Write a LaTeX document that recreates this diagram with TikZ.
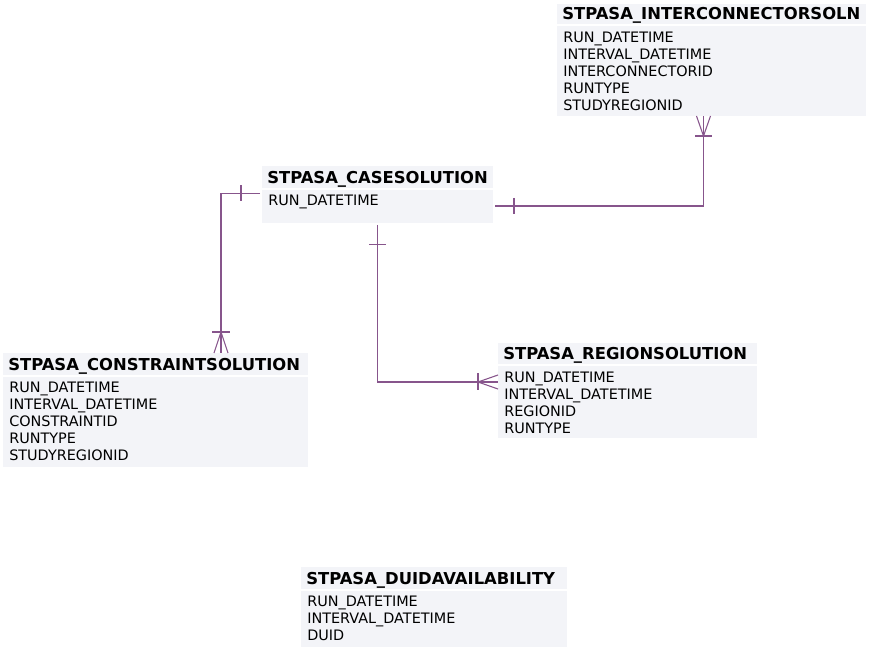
\documentclass[tikz,border=0pt]{standalone}
\usepackage{fontspec}
\setmainfont{DejaVu Sans}
\usetikzlibrary{fit,calc}
\definecolor{boxfill}{RGB}{243,244,248}
\definecolor{relcol}{RGB}{135,85,140}
\newcommand\ERbox[8]{%
  \node[hdrband, fit={(#2,#4)(#3,#5)}] (#1-h) {};
  \node[hdrband, fit={(#2,#5+2)(#3,#6)}] (#1-b) {};
  \node[titletext] (#1-t) at (#2+5,#5-4.5) {#7};
  \foreach \rr [count=\ii from 0] in {#8} {
    \node[rowtext] (#1-r\ii) at (#2+6,#5+18+17*\ii) {\rr};
  }%
}
\begin{document}
\begin{tikzpicture}[x=0.75pt,y=-0.75pt,
  hdrband/.style={inner sep=0pt, outer sep=0pt, fill=boxfill, draw=none},
  titletext/.style={anchor=base west, inner sep=0pt, font=\bfseries\fontsize{12.3}{14}\selectfont},
  rowtext/.style={anchor=base west, inner sep=0pt, font=\fontsize{10.8}{13}\selectfont},
  rel/.style={draw=relcol, line width=0.8pt}]
\useasboundingbox[fill=white] (0,0) rectangle (872,652);

\ERbox{inter}{557}{866}{4}{24.5}{116}{STPASA\_INTERCONNECTORSOLN}{RUN\_DATETIME,INTERVAL\_DATETIME,INTERCONNECTORID,RUNTYPE,STUDYREGIONID}
\ERbox{case}{262}{493}{166}{188}{223}{STPASA\_CASESOLUTION}{RUN\_DATETIME}
\ERbox{constr}{3}{308}{353}{375}{467}{STPASA\_CONSTRAINTSOLUTION}{RUN\_DATETIME,INTERVAL\_DATETIME,CONSTRAINTID,RUNTYPE,STUDYREGIONID}
\ERbox{region}{498}{757}{343}{364.5}{438}{STPASA\_REGIONSOLUTION}{RUN\_DATETIME,INTERVAL\_DATETIME,REGIONID,RUNTYPE}
\ERbox{duid}{301}{567}{567}{588.5}{647}{STPASA\_DUIDAVAILABILITY}{RUN\_DATETIME,INTERVAL\_DATETIME,DUID}

% relationship 1: case -> constraint
\coordinate (s1) at ($(case-b.north west)+(-2,3.5)$);
\coordinate (k1) at ($(constr-h.north west)+(218,0)$);
\draw[rel] (s1) -| (k1);
\draw[rel] ($(s1)+(-19,-8)$) -- ++(0,16);
\draw[rel] ($(k1)+(-9,-21)$) -- ++(18,0);
\draw[rel] ($(k1)+(-7,0)$) -- ($(k1)+(0,-21)$) -- ($(k1)+(7,0)$);

% relationship 2: case -> interconnector
\coordinate (s2) at ($(case-b.east)+(2,-0.5)$);
\coordinate (k2) at ($(inter-b.south west)+(146.5,0)$);
\draw[rel] (s2) -| (k2);
\draw[rel] ($(s2)+(19,-8)$) -- ++(0,16);
\draw[rel] ($(k2)+(-8.5,20)$) -- ++(17,0);
\draw[rel] ($(k2)+(-7,0)$) -- ($(k2)+(0,20)$) -- ($(k2)+(7,0)$);

% relationship 3: case -> region
\coordinate (s3) at ($(case-b.south west)+(115.5,2)$);
\coordinate (k3) at ($(region-b.north west)+(0,15.5)$);
\draw[rel] (s3) |- (k3);
\draw[rel] ($(s3)+(-8.5,19.5)$) -- ++(17,0);
\draw[rel] ($(k3)+(-20,-8.5)$) -- ++(0,17);
\draw[rel] ($(k3)+(0,-7)$) -- ($(k3)+(-20,0)$) -- ($(k3)+(0,7)$);
\end{tikzpicture}
\end{document}
